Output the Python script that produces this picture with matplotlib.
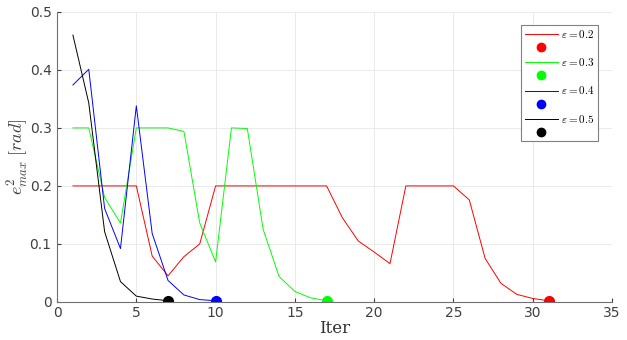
import matplotlib
matplotlib.use('Agg')
import matplotlib.pyplot as plt
import numpy as np

plt.rcParams['mathtext.fontset'] = 'cm'

eps = [0.2, 0.3, 0.4, 0.5]
colors = ['#ff0000', '#00ff00', '#0000ff', '#000000']

# error per iteration for each epsilon
err_02 = [0.2, 0.2, 0.2, 0.2, 0.2, 0.079, 0.045, 0.078, 0.1, 0.2,
          0.2, 0.2, 0.2, 0.2, 0.2, 0.2, 0.2, 0.145, 0.105, 0.086,
          0.066, 0.2, 0.2, 0.2, 0.2, 0.176, 0.075, 0.032, 0.013, 0.006, 0.002]
err_03 = [0.3, 0.3, 0.18, 0.136, 0.3, 0.3, 0.3, 0.294, 0.136, 0.069,
          0.3, 0.299, 0.125, 0.044, 0.018, 0.007, 0.002]
err_04 = [0.374, 0.401, 0.161, 0.092, 0.338, 0.118, 0.037, 0.012, 0.004, 0.002]
err_05 = [0.46, 0.343, 0.121, 0.035, 0.010, 0.005, 0.002]
errs = [err_02, err_03, err_04, err_05]

fig = plt.figure(figsize=(6.27, 3.4), dpi=100)
ax = fig.add_axes([0.091, 0.112, 0.885, 0.853])

handles = []
labels = []
for e, c, y in zip(eps, colors, errs):
    it = np.arange(1, len(y) + 1)
    l, = ax.plot(it, y, color=c, lw=0.7)
    m, = ax.plot(it[-1], y[-1], 'o', color=c, ms=7, ls='none')
    handles += [l, m]
    labels += [r'$\varepsilon = %.1f$' % e, ' ']

ax.set_xlim(0, 35)
ax.set_ylim(0, 0.5)
ax.set_xticks(np.arange(0, 36, 5))
ax.set_yticks(np.arange(0, 0.51, 0.1))
ax.set_yticklabels(['0', '0.1', '0.2', '0.3', '0.4', '0.5'])
ax.grid(True, color='#e6e6e6', lw=0.6)
ax.set_axisbelow(True)
for s in ['top', 'right']:
    ax.spines[s].set_visible(False)
for s in ['left', 'bottom']:
    ax.spines[s].set_color('#707070')
ax.tick_params(colors='#404040', labelsize=10, direction='in', length=3)
ax.tick_params(axis='x', pad=3)
ax.tick_params(axis='y', pad=4)

ax.set_xlabel('Iter', fontsize=12, family='DejaVu Serif', labelpad=0, color='#303030')
ax.set_ylabel(r'$e^2_{max}\ [rad]$', fontsize=13, color='#404040', labelpad=-1)

leg = ax.legend(handles, labels, loc='upper right', bbox_to_anchor=(0.985, 0.975),
                fontsize=8, handlelength=3.0, handletextpad=0.3,
                labelspacing=0.28, borderpad=0.3, fancybox=False, framealpha=1)
for h in leg.legend_handles[1::2]:
    h.set_markersize(6)
leg.get_frame().set_edgecolor('#808080')
leg.get_frame().set_linewidth(0.8)

fig.savefig('out.png', dpi=100)
